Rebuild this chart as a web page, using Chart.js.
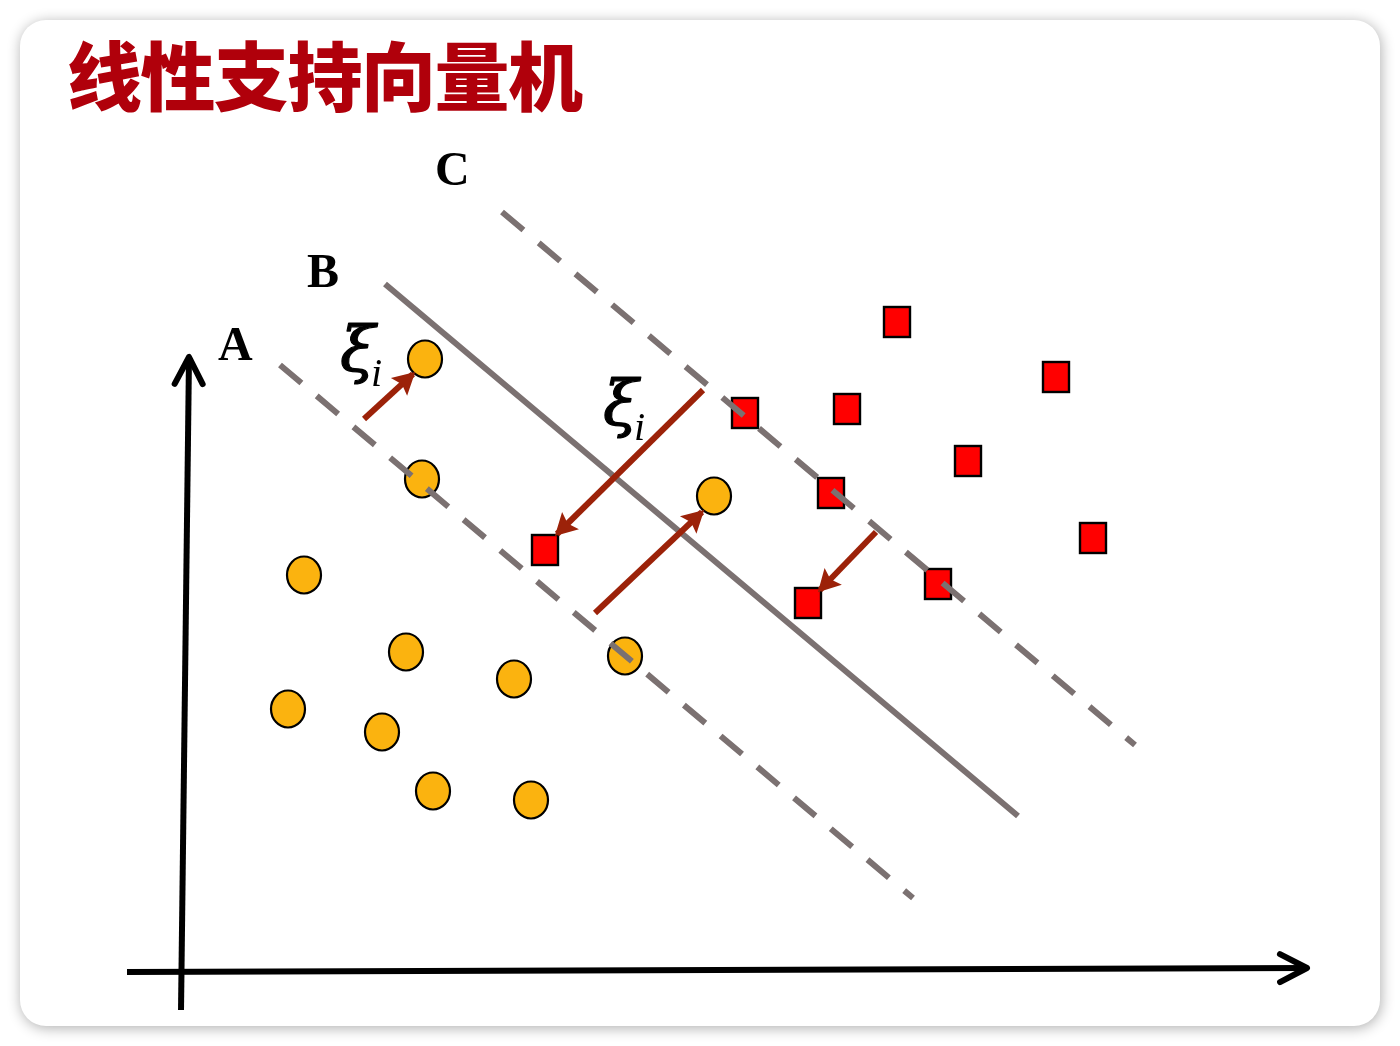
<!DOCTYPE html>
<html>
<head>
<meta charset="utf-8">
<title>线性支持向量机</title>
<script src="https://cdn.jsdelivr.net/npm/chart.js@4.4.1/dist/chart.umd.min.js"></script>
<style>
    html, body { margin: 0; padding: 0; background: #ffffff; }
    body { width: 1400px; height: 1046px; position: relative; overflow: hidden; }
    .card {
        position: absolute; left: 20px; top: 20px; width: 1360px; height: 1006px;
        background: #ffffff; border-radius: 26px;
        box-shadow: 1px 2px 14px rgba(0, 0, 0, 0.32);
    }
    .title {
        position: absolute; left: 67px; top: 18px;
        font-family: "Noto Sans CJK SC", sans-serif; font-weight: 900;
        font-size: 75px; letter-spacing: -1.5px; color: #b0000b; white-space: nowrap;
    }
    #svm { position: absolute; left: 0; top: 0; }
</style>
</head>
<body>
<div class="card"></div>
<div class="title">线性支持向量机</div>
<canvas id="svm" width="1400" height="1046"></canvas>
<script>
// ------------------ DATA ------------------
// coordinates in plot units (x: 0..140, y: 0..104.6)
const circlePoints = [
    [42.5, 68.7], [42.2, 56.7], [30.4, 47.1], [40.6, 39.4], [51.4, 36.7], [28.8, 33.7],
    [38.2, 31.4], [43.3, 25.5], [53.1, 24.6], [62.5, 39.0], [71.4, 55.0]
];
const squarePoints = [
    [89.7, 72.4], [105.6, 66.9], [74.5, 63.3], [84.7, 63.7], [96.8, 58.5],
    [83.1, 55.3], [109.3, 50.8], [93.8, 46.2], [80.8, 44.3], [54.5, 49.6]
];
const lineA = [[28.0, 68.1], [91.3, 14.8]];
const lineB = [[38.5, 76.2], [101.8, 23.0]];
const lineC = [[50.2, 83.4], [113.5, 30.1]];
const xAxisLine = [[12.7, 7.4], [130.7, 7.8]];
const yAxisLine = [[18.1, 3.6], [18.9, 68.9]];
const slackArrows = [
    [[36.4, 62.7], [41.3, 67.2]],
    [[70.3, 65.6], [55.7, 51.2]],
    [[59.5, 43.3], [70.2, 53.4]],
    [[87.6, 51.4], [82.0, 45.6]]
];
const lineLabels = ["A", "B", "C"];
const lineLabelPos = [[21.8, 68.6], [30.7, 75.9], [43.5, 86.1]];
const xiLabelPos = [[34.0, 67.5], [60.3, 62.1]];

// ------------------ COLORS ------------------
const ORANGE = "#fbb30f";
const RED = "#ff0000";
const GRAY = "#7b7171";
const ARROW = "#9c2209";

// ------------------ POINT SHAPES ------------------
function makeEllipse() {
    const c = document.createElement("canvas");
    c.width = 40; c.height = 44;
    const g = c.getContext("2d");
    g.beginPath();
    g.ellipse(20, 22, 17, 18.5, 0, 0, Math.PI * 2);
    g.fillStyle = ORANGE;
    g.fill();
    g.lineWidth = 2.2;
    g.strokeStyle = "#000";
    g.stroke();
    return c;
}

function makeSquare() {
    const c = document.createElement("canvas");
    c.width = 30; c.height = 34;
    const g = c.getContext("2d");
    g.fillStyle = RED;
    g.fillRect(2, 2, 26, 30);
    g.lineWidth = 2.4;
    g.strokeStyle = "#000";
    g.strokeRect(2, 2, 26, 30);
    return c;
}

const toXY = (arr) => arr.map(p => ({ x: p[0], y: p[1] }));

// ------------------ PLUGIN: arrow heads + labels ------------------
const decorPlugin = {
    id: "decor",
    afterDatasetsDraw(chart) {
        const ctx = chart.ctx;
        const xs = chart.scales.x, ys = chart.scales.y;
        ctx.save();

        chart.data.datasets.forEach((ds, i) => {
            if (!ds.head) return;
            const pts = chart.getDatasetMeta(i).data;
            const a = pts[0], b = pts[1];
            const ang = Math.atan2(b.y - a.y, b.x - a.x);
            const cos = Math.cos(ang), sin = Math.sin(ang);
            if (ds.head === "solid") {
                // filled arrow head
                const tx = b.x + 3 * cos, ty = b.y + 3 * sin;
                const len = 22, half = 12, notch = 4;
                ctx.beginPath();
                ctx.moveTo(tx, ty);
                ctx.lineTo(tx - len * cos - half * sin, ty - len * sin + half * cos);
                ctx.lineTo(tx - (len - notch) * cos, ty - (len - notch) * sin);
                ctx.lineTo(tx - len * cos + half * sin, ty - len * sin - half * cos);
                ctx.closePath();
                ctx.fillStyle = ds.borderColor;
                ctx.fill();
            } else {
                // open chevron for the axes
                const len = 27, half = 14;
                ctx.beginPath();
                ctx.moveTo(b.x - len * cos - half * sin, b.y - len * sin + half * cos);
                ctx.lineTo(b.x, b.y);
                ctx.lineTo(b.x - len * cos + half * sin, b.y - len * sin - half * cos);
                ctx.lineWidth = 6;
                ctx.lineCap = "round";
                ctx.lineJoin = "round";
                ctx.strokeStyle = "#000";
                ctx.stroke();
            }
        });

        // A / B / C labels
        ctx.fillStyle = "#000";
        ctx.textBaseline = "alphabetic";
        ctx.textAlign = "left";
        ctx.font = "bold 48px 'Liberation Serif', serif";
        lineLabels.forEach((t, i) => {
            ctx.fillText(t, xs.getPixelForValue(lineLabelPos[i][0]), ys.getPixelForValue(lineLabelPos[i][1]));
        });

        // slack variable labels
        xiLabelPos.forEach(p => {
            const px = xs.getPixelForValue(p[0]);
            const py = ys.getPixelForValue(p[1]);
            ctx.font = "italic 64px 'DejaVu Serif', serif";
            ctx.lineWidth = 1.2;
            ctx.strokeStyle = "#000";
            ctx.fillText("ξ", px, py);
            ctx.strokeText("ξ", px, py);
            ctx.font = "italic 40px 'Liberation Serif', serif";
            ctx.fillText("i", px + 31, py + 15);
        });

        ctx.restore();
    }
};

// ------------------ DATASETS ------------------
const lineStyle = (data, dashed, order) => ({
    data: toXY(data),
    showLine: true,
    borderColor: GRAY,
    borderWidth: 6,
    borderDash: dashed ? [28, 20] : [],
    borderCapStyle: "butt",
    pointRadius: 0,
    order: order
});

const datasets = [
    { data: toXY(xAxisLine), showLine: true, borderColor: "#000", borderWidth: 6, pointRadius: 0, head: "open", order: 4 },
    { data: toXY(yAxisLine), showLine: true, borderColor: "#000", borderWidth: 6, pointRadius: 0, head: "open", order: 4 },
    { data: toXY(circlePoints), pointStyle: makeEllipse(), pointRadius: 18, order: 3 },
    { data: toXY(squarePoints), pointStyle: makeSquare(), pointRadius: 15, order: 3 },
    lineStyle(lineA, true, 2),
    lineStyle(lineB, false, 2),
    lineStyle(lineC, true, 2)
];
slackArrows.forEach(arr => {
    datasets.push({
        data: toXY(arr),
        showLine: true,
        borderColor: ARROW,
        borderWidth: 6,
        borderCapStyle: "butt",
        pointRadius: 0,
        head: "solid",
        order: 1
    });
});

// ------------------ CHART ------------------
new Chart(document.getElementById("svm"), {
    type: "scatter",
    data: { datasets: datasets },
    options: {
        responsive: false,
        animation: false,
        devicePixelRatio: 1,
        events: [],
        layout: { padding: 0, autoPadding: false },
        plugins: {
            legend: { display: false },
            tooltip: { enabled: false }
        },
        scales: {
            x: { type: "linear", min: 0, max: 140, display: false },
            y: { type: "linear", min: 0, max: 104.6, display: false }
        }
    },
    plugins: [decorPlugin]
});
</script>
</body>
</html>
